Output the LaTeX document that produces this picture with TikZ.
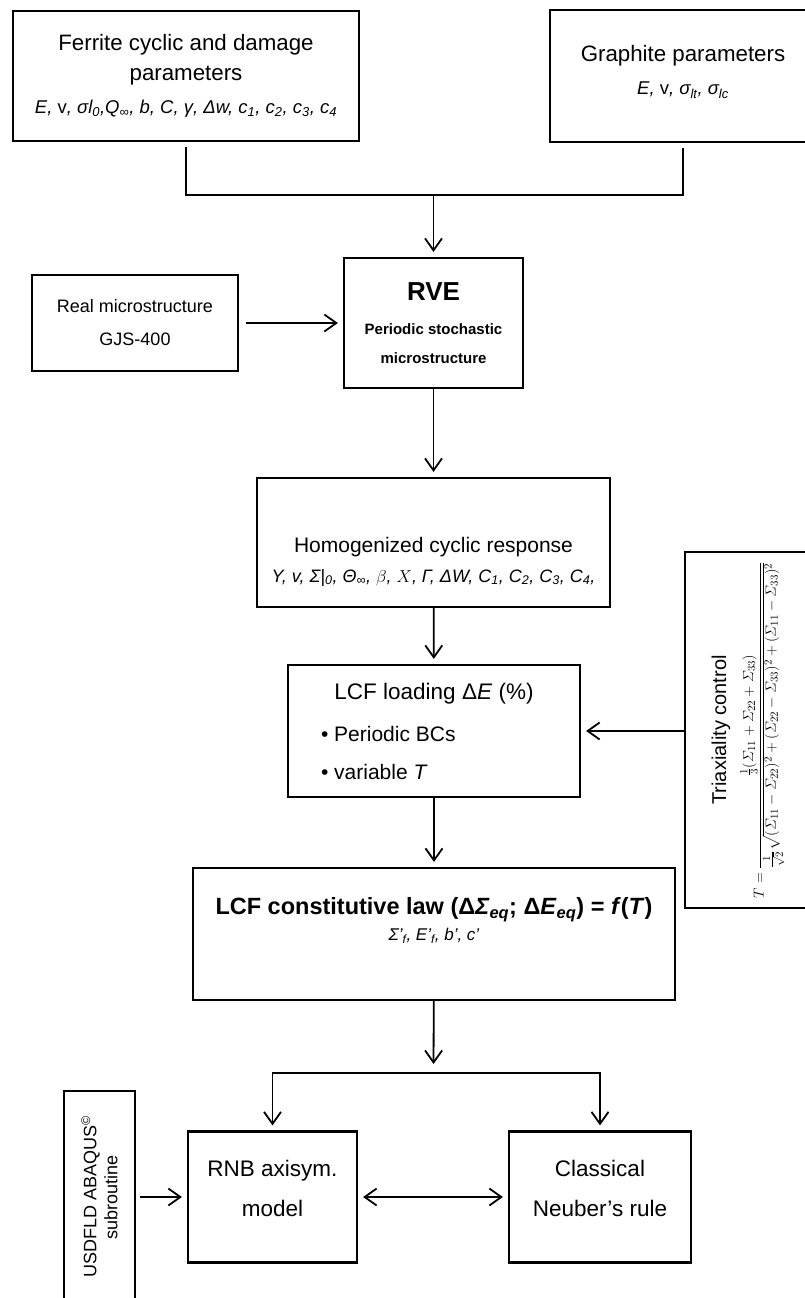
\documentclass[tikz,border=0pt]{standalone}
\usepackage{amsmath}
\usepackage[no-math]{fontspec}
\setmainfont{Liberation Sans}
\usetikzlibrary{arrows.meta,positioning}
\newcommand{\lo}[1]{\textsubscript{#1}}
\newcommand{\parfont}{\fontsize{18.5}{20}\selectfont\itshape}
\tikzset{
  >={Straight Barb[length=12pt,width=17pt]},
  box/.style={rectangle, draw=black, line width=2.2pt, align=center, inner sep=2pt,
              font=\fontsize{22.3}{30}\selectfont},
  arr/.style={->, line width=1.8pt, shorten >=5pt},
  darr/.style={<->, line width=1.8pt, shorten >=5pt, shorten <=5pt},
  ln/.style={line width=1.8pt},
}

\begin{document}
\begin{tikzpicture}[x=1pt,y=-1pt]
\useasboundingbox (0,0) rectangle (805,1298);
\clip (0,0) rectangle (805,1298);
% material inputs
\node[box, minimum width=346, minimum height=130] (ferrite) at (186,76)
  {Ferrite cyclic and damage\\ parameters\\[3pt]
   {\parfont E, {\upshape v}, σl\lo{0},Q\lo{∞}, b, C, γ, Δw, c\lo{1}, c\lo{2}, c\lo{3}, c\lo{4}}};
\node[box, minimum width=266, minimum height=132] (graphite) at (683,76)
  {Graphite parameters\\[3pt] {\parfont E, {\upshape v}, σ\lo{lt}, σ\lo{lc}}\rule[-12pt]{0pt}{12pt}};
\node[box, minimum width=179, minimum height=130, font=\fontsize{15}{29}\selectfont\bfseries] (rve) at (433.5,323)
  {{\fontsize{26}{30}\selectfont RVE}\\[5pt] Periodic stochastic\\ microstructure};
\node[box, minimum width=206, minimum height=96, font=\fontsize{18}{33}\selectfont] (real) at (135,323)
  {Real microstructure\\ GJS-400};
% homogenization and loading
\node[box, minimum width=353, minimum height=129, font=\fontsize{21}{30}\selectfont] (homog) at (433.5,542.5)
  {\rule{0pt}{53pt}Homogenized cyclic response\\
   {\fontsize{18}{20}\selectfont\itshape Y, v, Σ|\lo{0}, Θ\lo{∞}, $\beta$, $X$, Γ, ΔW, C\lo{1}, C\lo{2}, C\lo{3}, C\lo{4},}};
\node[box, minimum width=292, minimum height=132, font=\fontsize{21}{38}\selectfont] (loading) at (434,731)
  {{\fontsize{22.5}{38}\selectfont LCF loading Δ\textit{E} (\%)}\\[4pt]
   \makebox[226pt][l]{• Periodic BCs}\\
   \makebox[226pt][l]{• variable \textit{T}}};
\node[box, rotate=90, minimum width=356, minimum height=126, font=\fontsize{20}{26}\selectfont] (triax) at (748,730)
  {Triaxiality control\\[9pt]
   {\fontsize{15}{17}\selectfont $\displaystyle T=\frac{\frac{1}{3}(\varSigma_{11}+\varSigma_{22}+\varSigma_{33})}{\frac{1}{\sqrt{2}}\sqrt{(\varSigma_{11}-\varSigma_{22})^2+(\varSigma_{22}-\varSigma_{33})^2+(\varSigma_{11}-\varSigma_{33})^2}}$}};
\node[box, minimum width=482, minimum height=132, font=\fontsize{23.5}{26}\selectfont] (law) at (434,934)
  {\textbf{LCF constitutive law (Δ\textit{Σ}\lo{\textit{eq}}; Δ\textit{E}\lo{\textit{eq}}) = \textit{f}(\textit{T})}\\
   {\fontsize{17}{20}\selectfont\itshape Σ'\lo{f}, E'\lo{f}, b', c'}\rule[-30pt]{0pt}{30pt}};
% structural computation
\node[box, minimum width=169, minimum height=131, font=\fontsize{22.5}{40}\selectfont] (rnb) at (272.5,1197)
  {RNB axisym.\\ model\rule[-18pt]{0pt}{18pt}};
\node[box, minimum width=182, minimum height=131, font=\fontsize{22.5}{40}\selectfont] (neuber) at (600,1197)
  {Classical\\ Neuber's rule\rule[-18pt]{0pt}{18pt}};
\node[box, rotate=90, minimum width=212, minimum height=71, font=\fontsize{18}{21}\selectfont] (usdfld) at (99.5,1197)
  {USDFLD ABAQUS\textsuperscript{©}\\ subroutine};

\coordinate (join) at (433.5,195);
\coordinate (split) at (433.5,1073);
\draw[ln] ([yshift=-5pt]ferrite.south) |- (join) -| ([yshift=-5pt]graphite.south);
\draw[arr] (join) -- (rve);
\draw[arr, shorten <=7pt] (real) -- (rve);
\draw[arr] (rve) -- (homog);
\draw[arr] (homog) -- (loading);
\draw[arr] (triax.north |- loading.east) -- (loading.east);
\draw[arr] (loading) -- (law);
\draw[arr, shorten >=9pt] (law) -- (split);
\draw[arr] (split) -| (rnb.north);
\draw[arr] (split) -| (neuber.north);
\draw[arr, shorten <=4pt] (usdfld.south) -- (rnb.west);
\draw[darr] (rnb) -- (neuber);
\end{tikzpicture}
\end{document}
